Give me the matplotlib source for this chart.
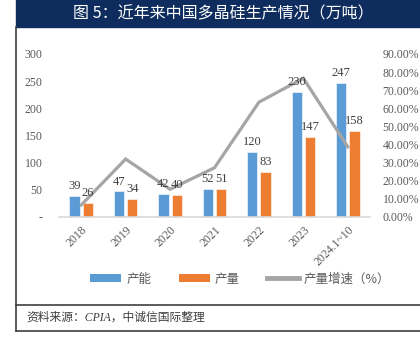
import matplotlib
matplotlib.use("Agg")
import matplotlib.pyplot as plt
from matplotlib.patches import Rectangle, Patch
from matplotlib.lines import Line2D
import numpy as np

categories = ["2018", "2019", "2020", "2021", "2022", "2023", "2024.1~10"]
capacity = [39, 47, 42, 52, 120, 230, 247]
output = [26, 34, 40, 51, 83, 147, 158]
growth = [6.6, 32.0, 15.3, 27.2, 63.4, 76.6, 38.7]
left_ticks = [0, 50, 100, 150, 200, 250, 300]
left_tick_labels = ["-", "50", "100", "150", "200", "250", "300"]
right_ticks = [0, 10, 20, 30, 40, 50, 60, 70, 80, 90]
right_tick_labels = ["%.2f%%" % v for v in right_ticks]

title = "图 5：近年来中国多晶硅生产情况（万吨）"
source = "资料来源：CPIA，中诚信国际整理"
legend_labels = ["产能", "产量", "产量增速（%）"]

BLUE = "#5B9BD5"
ORANGE = "#ED7D31"
GRAY = "#A5A5A5"
TXT = "#595959"
SERIF = ["Liberation Serif", "Noto Sans CJK SC"]
CJK = ["Noto Sans CJK SC", "DejaVu Sans"]

W, H = 420, 354
fig = plt.figure(figsize=(W / 100, H / 100), dpi=100)

def fx(px):
    return px / W

def fy(py):
    return 1 - py / H

# banner
fig.patches.append(Rectangle((fx(16), fy(27)), fx(420 - 16), 27 / H,
                             transform=fig.transFigure, color="#0E2D5E", zorder=0))
fig.text(fx(223), fy(14), title, color="white", fontsize=11.5, fontweight="medium",
         family=CJK, ha="center", va="center")
# frame lines
fig.add_artist(Line2D([fx(16), fx(16)], [fy(27), fy(331)], color="#404040", lw=1.2,
                      transform=fig.transFigure))
fig.add_artist(Line2D([fx(16), fx(420)], [fy(305), fy(305)], color="#404040", lw=1.2,
                      transform=fig.transFigure))
fig.add_artist(Line2D([fx(16), fx(420)], [fy(331), fy(331)], color="#404040", lw=1.2,
                      transform=fig.transFigure))
fig.text(fx(26), fy(318), source, color="#404040", fontsize=8.5, style="italic",
         family=SERIF, ha="left", va="center")

ax = fig.add_axes([fx(59), fy(217), fx(370 - 59), (217 - 54) / H])
x = np.arange(len(categories))
bw = 0.23
off = 0.15
ax.bar(x - off, capacity, bw, color=BLUE, edgecolor="white", linewidth=0.4, zorder=2)
ax.bar(x + off, output, bw, color=ORANGE, edgecolor="white", linewidth=0.4, zorder=2)
ax.set_xlim(-0.5, len(categories) - 0.5)
ax.set_ylim(0, 300)
ax.set_yticks(left_ticks)
ax.set_yticklabels(left_tick_labels, family=SERIF, fontsize=8.5, color=TXT)
ax.set_xticks(x)
ax.set_xticklabels(categories, family=SERIF, fontsize=8.5, color=TXT, rotation=45,
                   ha="right", rotation_mode="anchor")
ax.tick_params(axis="y", length=0, pad=12)
ax.tick_params(axis="x", length=0, pad=5)
for s in ["top", "right", "left"]:
    ax.spines[s].set_visible(False)
ax.spines["bottom"].set_color("#D9D9D9")
ax.spines["bottom"].set_linewidth(1.2)
ax.patch.set_alpha(0)

ax2 = ax.twinx()
ax2.plot(x, growth, color=GRAY, lw=2.3, solid_joinstyle="miter", zorder=3)
ax2.set_ylim(0, 90)
ax2.set_yticks(right_ticks)
ax2.set_yticklabels(right_tick_labels, family=SERIF, fontsize=8.5, color=TXT)
ax2.tick_params(axis="y", length=0, pad=9)
for s in ["top", "right", "left", "bottom"]:
    ax2.spines[s].set_visible(False)

for i in range(len(categories)):
    ax2.text(x[i] - off, capacity[i] + 7, str(capacity[i]), transform=ax.transData,
             ha="center", va="bottom", family=SERIF, fontsize=9, color="#404040", zorder=5)
    ax2.text(x[i] + off, output[i] + 7, str(output[i]), transform=ax.transData,
             ha="center", va="bottom", family=SERIF, fontsize=9, color="#404040", zorder=5)

handles = [Patch(facecolor=BLUE), Patch(facecolor=ORANGE), Line2D([], [], color=GRAY, lw=3.5)]
fig.legend(handles, legend_labels, loc="center", bbox_to_anchor=(fx(240), fy(279)), ncol=3,
           frameon=False, prop={"family": CJK, "size": 9}, handlelength=2.5,
           handleheight=0.65, columnspacing=2.2, handletextpad=0.4, labelcolor=TXT)

fig.savefig("out.png", dpi=100)
